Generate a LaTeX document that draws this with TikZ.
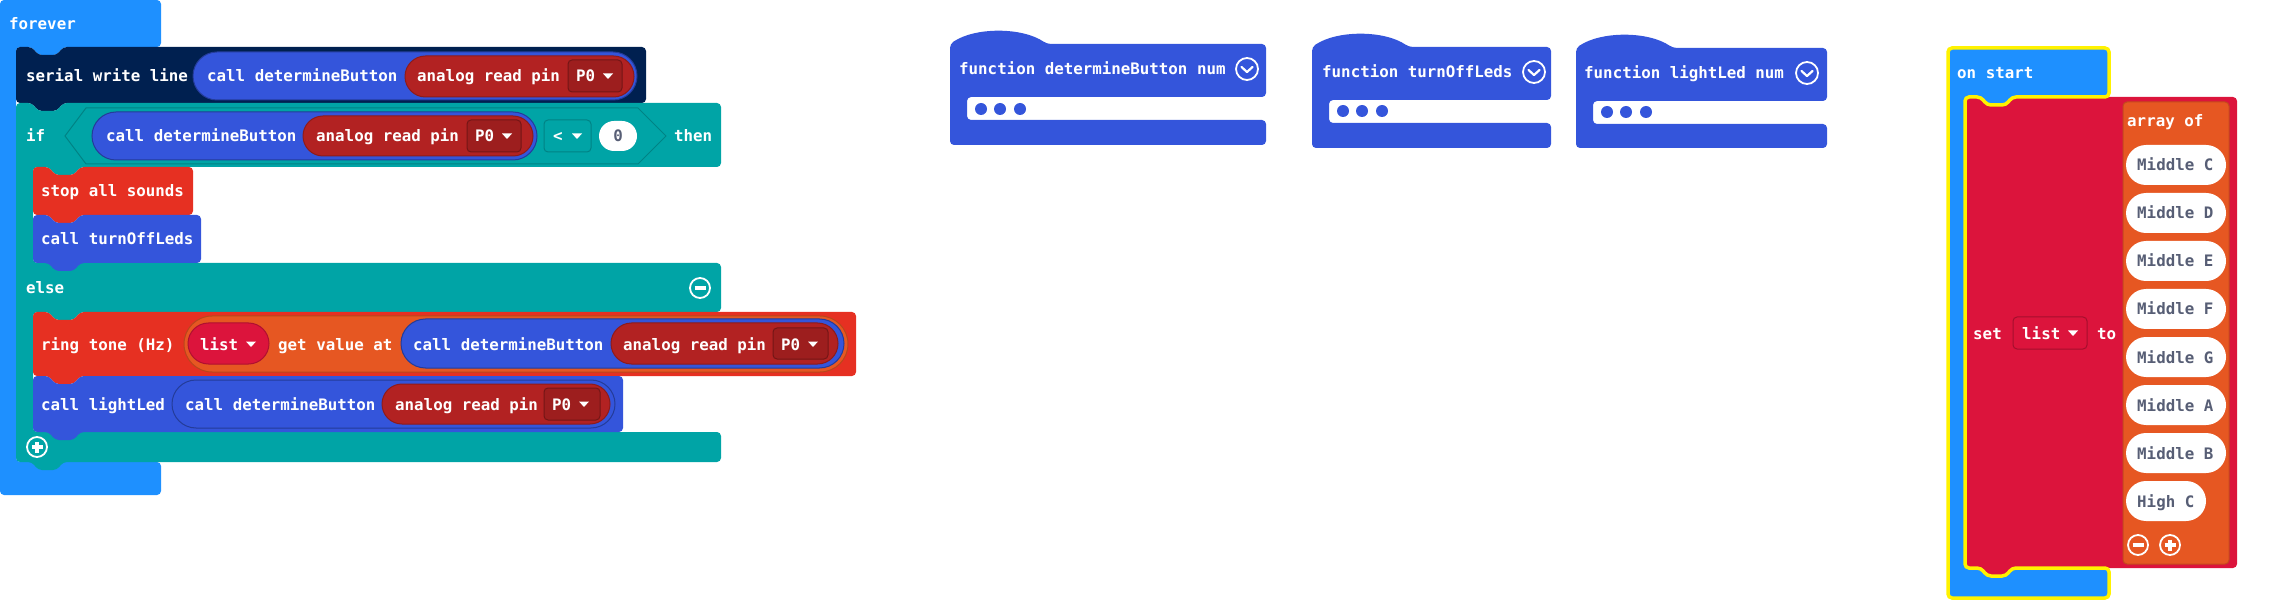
\documentclass[tikz,border=0pt]{standalone}
\usepackage{fontspec}
\newfontfamily\blockfont{DejaVu Sans Mono}
\definecolor{eventblue}{HTML}{1E90FF}
\definecolor{serialnavy}{HTML}{002050}
\definecolor{funcblue}{HTML}{3455DB}
\definecolor{pinred}{HTML}{B22222}
\definecolor{logicteal}{HTML}{00A4A6}
\definecolor{musicred}{HTML}{E63022}
\definecolor{arrayorange}{HTML}{E65722}
\definecolor{varcrimson}{HTML}{DC143C}
\definecolor{selyellow}{HTML}{FFF200}
\definecolor{slate}{HTML}{575E75}
\begin{document}
\begin{tikzpicture}[x=1pt,y=-1pt,
    block/.style={rounded corners=4pt},
    notch/.style={insert path={-- ++(16,0) -- ++(6,8) -- ++(19,0) -- ++(6,-8)}},
    tab/.style={insert path={-- ++(-6,8) -- ++(-19,0) -- ++(-6,-8)}},
    lbl/.style={font=\blockfont\bfseries\fontsize{15.8}{18}\selectfont,text=white,anchor=base west,inner sep=0,yshift=-6pt},
    callpill/.style={fill=funcblue,draw=funcblue!70!black,line width=1pt},
    pinpill/.style={fill=pinred,draw=pinred!80!black,line width=1pt},
    pinbox/.style={fill=pinred!88!black,draw=pinred!65!black,line width=1pt,rounded corners=4pt},
    ddarrow/.pic={\fill[white] (-5,-2.5) -- (5,-2.5) -- (0,3) -- cycle;},
    minusbtn/.pic={\draw[white,line width=1.8pt] (0,0) circle[radius=10pt];
        \draw[white,line width=3.2pt] (-5.5,0) -- (5.5,0);},
    plusbtn/.pic={\draw[white,line width=1.8pt] (0,0) circle[radius=10pt];
        \draw[white,line width=3.2pt] (-5.5,0) -- (5.5,0) (0,-5.5) -- (0,5.5);},
    chevron/.pic={\draw[white,line width=1.8pt] (0,0) circle[radius=11pt];
        \draw[white,line width=2.2pt,line cap=round,line join=round] (-5.5,-2) -- (0,3) -- (5.5,-2);}]
    \useasboundingbox (0,0) rectangle (2290,601);

    \fill[eventblue,block] (0,0) -- (161,0) -- (161,47) -- (63,47) [tab] -- (16,47) -- (16,462) -- (161,462) -- (161,495) -- (0,495) -- cycle;
    \node[lbl] (forever) at (9,24) {forever};

    \fill[serialnavy,block] (16,47) [notch] -- (646,47) -- (646,103) -- (63,103) [tab] -- (16,103) -- cycle;
    \node[lbl] (serial) at (26,76) {serial write line};
    \filldraw[callpill,rounded corners=24pt] (193,52) rectangle (637,100);
    \node[lbl] (callA) at (207,76) {call determineButton};
    \filldraw[pinpill,rounded corners=20.5pt] (405,56) rectangle (634,97);
    \node[lbl] (pinA) at (417,76) {analog read pin};
    \filldraw[pinbox] (568,60) rectangle (622,92);
    \node[lbl] (pzeroA) at (576,76) {P0};
    \pic at (608,76) {ddarrow};

    \fill[logicteal,block] (16,103) [notch] -- (721,103) -- (721,167) -- (80,167) [tab] -- (33,167) -- (33,263) -- (721,263) -- (721,312)
        -- (80,312) [tab] -- (33,312) -- (33,432) -- (721,432) -- (721,462) -- (63,462) [tab] -- (16,462) -- cycle;
    \node[lbl] (iflbl) at (26,136) {if};
    \filldraw[fill=logicteal,draw=logicteal!80!black,line width=1pt] (65,136) -- (86,108) -- (638,108) -- (666,136) -- (638,164) -- (86,164) -- cycle;
    \filldraw[callpill,rounded corners=24pt] (92,112) rectangle (537,160);
    \node[lbl] (callB) at (106,136) {call determineButton};
    \filldraw[pinpill,rounded corners=20pt] (303,116) rectangle (533,156);
    \node[lbl] (pinB) at (316,136) {analog read pin};
    \filldraw[pinbox] (467,120) rectangle (521,152);
    \node[lbl] (pzeroB) at (475,136) {P0};
    \pic at (507,136) {ddarrow};
    \filldraw[fill=logicteal,draw=logicteal!80!black,line width=1pt,rounded corners=4pt] (544,120) rectangle (591,152);
    \node[lbl] (less) at (553,136) {<};
    \pic at (577,136) {ddarrow};
    \fill[white,rounded corners=15pt] (599,121) rectangle (637,151);
    \node[lbl,anchor=base,text=slate] (zero) at (618,136) {0};
    \node[lbl] (then) at (674,136) {then};

    \fill[musicred,block] (33,167) [notch] -- (193,167) -- (193,215) -- (80,215) [tab] -- (33,215) -- cycle;
    \node[lbl] (stop) at (41,191) {stop all sounds};
    \fill[funcblue,block] (33,215) [notch] -- (201,215) -- (201,263) -- (80,263) [tab] -- (33,263) -- cycle;
    \node[lbl] (calloff) at (41,239) {call turnOffLeds};

    \node[lbl] (elselbl) at (26,288) {else};
    \pic at (700,288) {minusbtn};

    \fill[musicred,block] (33,312) [notch] -- (856,312) -- (856,376) -- (80,376) [tab] -- (33,376) -- cycle;
    \node[lbl] (ring) at (41,344) {ring tone (Hz)};
    \filldraw[fill=arrayorange,draw=arrayorange!80!black,line width=1pt,rounded corners=28pt] (184,316) rectangle (848,372);
    \filldraw[fill=varcrimson,draw=varcrimson!80!black,line width=1pt,rounded corners=20.5pt] (188,323) rectangle (269,364);
    \node[lbl] (listA) at (200,344) {list};
    \pic at (251,344) {ddarrow};
    \node[lbl] (getval) at (278,344) {get value at};
    \filldraw[callpill,rounded corners=24.5pt] (401,319) rectangle (844,368);
    \node[lbl] (callC) at (413,344) {call determineButton};
    \filldraw[pinpill,rounded corners=20.5pt] (611,323) rectangle (838,364);
    \node[lbl] (pinC) at (623,344) {analog read pin};
    \filldraw[pinbox] (773,328) rectangle (828,359);
    \node[lbl] (pzeroC) at (781,344) {P0};
    \pic at (813,344) {ddarrow};

    \fill[funcblue,block] (33,376) [notch] -- (623,376) -- (623,432) -- (80,432) [tab] -- (33,432) -- cycle;
    \node[lbl] (calllight) at (41,404) {call lightLed};
    \filldraw[callpill,rounded corners=24pt] (172,380) rectangle (615,428);
    \node[lbl] (callD) at (185,404) {call determineButton};
    \filldraw[pinpill,rounded corners=20pt] (382,384) rectangle (610,424);
    \node[lbl] (pinD) at (395,404) {analog read pin};
    \filldraw[pinbox] (544,388) rectangle (600,420);
    \node[lbl] (pzeroD) at (552,404) {P0};
    \pic at (584,404) {ddarrow};
    \pic at (37,447) {plusbtn};

    \fill[funcblue,block] (950,145) -- (950,44) .. controls (975,27) and (1022,27) .. (1047,44) -- (1266,44) -- (1266,97)
        -- (967,97) -- (967,120) -- (1266,120) -- (1266,145) -- cycle;
    \node[lbl] (fdetermine) at (959,69) {function determineButton num};
    \pic at (1247,69) {chevron};
    \foreach \x in {981,1000,1020} \fill[funcblue] (\x,109) circle[radius=6pt];

    \fill[funcblue,block] (1312,148) -- (1312,47) .. controls (1337,30) and (1384,30) .. (1409,47) -- (1551,47) -- (1551,100)
        -- (1329,100) -- (1329,123) -- (1551,123) -- (1551,148) -- cycle;
    \node[lbl] (fturnoff) at (1322,72) {function turnOffLeds};
    \pic at (1534,72) {chevron};
    \foreach \x in {1343,1362,1382} \fill[funcblue] (\x,111) circle[radius=6pt];

    \fill[funcblue,block] (1576,148) -- (1576,48) .. controls (1601,31) and (1648,31) .. (1673,48) -- (1827,48) -- (1827,101)
        -- (1593,101) -- (1593,124) -- (1827,124) -- (1827,148) -- cycle;
    \node[lbl] (flight) at (1584,73) {function lightLed num};
    \pic at (1807,73) {chevron};
    \foreach \x in {1607,1626,1646} \fill[funcblue] (\x,112) circle[radius=6pt];

    \fill[eventblue,block] (1948,48) -- (2109,48) -- (2109,97) -- (2012,97) [tab] -- (1965,97) -- (1965,568) -- (2109,568) -- (2109,598) -- (1948,598) -- cycle;
    \node[lbl] (onstart) at (1957,73) {on start};
    \fill[varcrimson,block] (1965,97) [notch] -- (2237,97) -- (2237,568) -- (2012,568) [tab] -- (1965,568) -- cycle;
    \node[lbl] (setlbl) at (1973,333) {set};
    \filldraw[fill=varcrimson,draw=varcrimson!75!black,line width=1pt,rounded corners=4pt] (2013,317) rectangle (2087,349);
    \node[lbl] (listB) at (2022,333) {list};
    \pic at (2073,333) {ddarrow};
    \node[lbl] (tolbl) at (2097,333) {to};
    \filldraw[fill=arrayorange,draw=arrayorange!85!black,line width=1pt,rounded corners=4pt] (2123,102) rectangle (2229,564);
    \node[lbl] (arrayof) at (2127,121) {array of};
    \foreach \note/\y/\w [count=\i] in {Middle C/165/2226,Middle D/213/2226,Middle E/261/2226,Middle F/309/2226,
        Middle G/357/2226,Middle A/405/2226,Middle B/453/2226,High C/501/2206} {
        \fill[white,rounded corners=20pt] (2126,\y-20) rectangle (\w,\y+20);
        \node[lbl,text=slate] (note\i) at (2137,\y) {\note};
    }
    \pic at (2138,545) {minusbtn};
    \pic at (2170,545) {plusbtn};
    \draw[selyellow,line width=3.5pt,block] (1948,48) -- (2109,48) -- (2109,97) -- (2012,97) [tab] -- (1965,97) -- (1965,568) [notch]
        -- (2109,568) -- (2109,598) -- (1948,598) -- cycle;
\end{tikzpicture}
\end{document}
